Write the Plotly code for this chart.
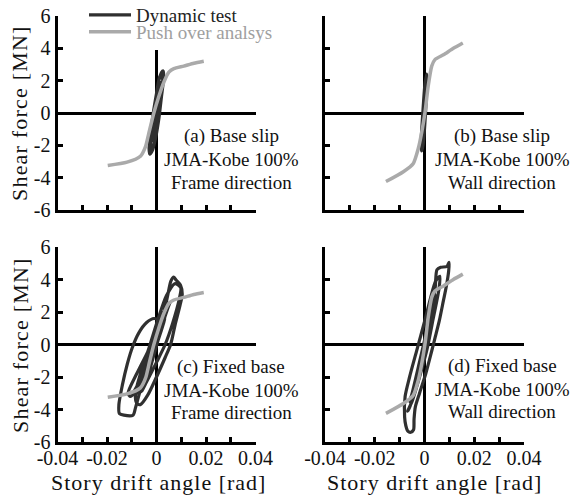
import plotly.graph_objects as go

W, H = 574, 498
FONT = "Liberation Serif"

# Push-over analysis curves (story drift angle [rad], shear force [MN])
po_frame_drift = [-0.0197, -0.0119, -0.0065, -0.0044, -0.0031, -0.0011, 0.0009,
                  0.0030, 0.0050, 0.0070, 0.0110, 0.0151, 0.0191]
po_frame_shear = [-3.25, -3.04, -2.67, -2.06, -1.25, -0.02, 1.00,
                  1.92, 2.53, 2.74, 2.90, 3.08, 3.20]
po_wall_drift = [-0.0155, -0.0085, -0.0045, -0.0025, -0.0011, 0.0002, 0.0015,
                 0.0029, 0.0042, 0.0076, 0.0116, 0.0154]
po_wall_shear = [-4.24, -3.63, -3.12, -2.20, -1.18, 0.04, 1.67,
                 2.90, 3.30, 3.60, 4.00, 4.33]

# Dynamic test, base slip, frame direction
dyn_a_drift = [0.0, -0.0002, 0.0008, 0.0020, 0.0027, 0.0029, 0.0020, 0.0010, -0.0003,
               -0.0016, -0.0027, -0.0030, -0.0023, -0.0013, 0.0, 0.0012, 0.0022,
               0.0025, 0.0014, 0.0001, -0.0012, -0.0022, -0.0024, -0.0014, -0.0002,
               0.0010, 0.0018, 0.0016, 0.0004, -0.0010, -0.0018, -0.0010, 0.0]
dyn_a_shear = [0.0, 0.9, 1.9, 2.5, 2.6, 2.2, 1.0, -0.3, -1.5,
               -2.3, -2.55, -2.2, -1.2, 0.0, 1.2, 2.2, 2.45,
               1.9, 0.6, -0.9, -2.0, -2.4, -1.9, -0.8, 0.5,
               1.5, 1.9, 1.2, -0.1, -1.4, -1.7, -0.8, 0.0]

# Dynamic test, base slip, wall direction
dyn_b_drift = [0.0, -0.0002, 0.0003, 0.0008, 0.0010, 0.0008, 0.0004, -0.0001, -0.0006,
               -0.0011, -0.0014, -0.0011, -0.0006, -0.0001, 0.0004, 0.0007, 0.0004,
               -0.0001, -0.0006, -0.0011, -0.0010, -0.0004, 0.0]
dyn_b_shear = [0.0, 0.8, 1.8, 2.4, 2.2, 1.2, 0.0, -1.2, -2.0,
               -2.35, -2.0, -1.0, 0.2, 1.3, 2.1, 1.8, 0.6,
               -0.7, -1.7, -2.1, -1.5, -0.4, 0.0]

# Dynamic test, fixed base, frame direction
dyn_c_drift = [0.0, 0.0020, 0.0035, 0.0025, -0.0010, -0.0040, -0.0055, -0.0045, -0.0015,
               0.0015, 0.0040, 0.0055, 0.0045, 0.0010, -0.0030, -0.0070, -0.0090, -0.0075,
               -0.0040, 0.0, 0.0025, 0.0045, 0.0058, 0.0070, 0.0080, 0.0097, 0.0104,
               0.0095, 0.0075, 0.0057, 0.0035, 0.0, -0.0035, -0.0065, -0.0080, -0.0085,
               -0.0065, -0.0030, 0.0005, 0.0040, 0.0075, 0.0098, 0.0092, 0.0065, 0.0035,
               0.0, -0.0040, -0.0060, -0.0040, -0.0010, 0.0010, 0.0005, -0.0010, -0.0040,
               -0.0072, -0.0098, -0.0118, -0.0138, -0.0152, -0.0150, -0.0132, -0.0095,
               -0.0085, -0.0065, -0.0030, -0.0005, -0.0040, -0.0105, -0.0115, -0.0080,
               -0.0040, -0.0010, 0.0015, 0.0030, 0.0020, -0.0010, -0.0045, -0.0080,
               -0.0095, -0.0070, -0.0030, 0.0]
dyn_c_shear = [0.0, 0.9, 1.6, 1.3, -0.4, -1.6, -2.3, -2.1, -0.8,
               0.7, 2.0, 2.6, 2.2, 0.6, -1.2, -2.6, -3.1, -2.9,
               -1.6, 0.3, 1.6, 3.0, 3.9, 4.15, 3.95, 3.65, 3.1,
               2.4, 1.2, 0.0, -0.8, -2.0, -3.1, -3.7, -3.6, -3.0,
               -1.8, -0.2, 1.5, 3.0, 3.75, 3.5, 2.8, 1.3, 0.0,
               -1.1, -2.3, -2.9, -2.2, -0.6, 0.6, 1.5, 1.6, 1.35,
               0.7, -0.2, -1.2, -2.5, -3.7, -4.25, -4.35, -4.35,
               -3.9, -2.8, -1.3, -0.2, -1.9, -3.2, -3.0, -1.8,
               -0.6, 0.3, 1.2, 2.0, 1.8, 0.3, -1.4, -2.6,
               -3.0, -2.3, -0.9, 0.0]

# Dynamic test, fixed base, wall direction
dyn_d_drift = [0.0, 0.0015, 0.0030, 0.0020, -0.0010, -0.0030, -0.0040, -0.0030, 0.0,
               0.0020, 0.0035, 0.0045, 0.0035, 0.0010, -0.0020, -0.0045, -0.0060, -0.0050,
               -0.0020, 0.0010, 0.0030, 0.0043, 0.0050, 0.0065, 0.0090, 0.0099, 0.0097,
               0.0088, 0.0076, 0.0060, 0.0043, 0.0029, 0.0005, -0.0020, -0.0037, -0.0042,
               -0.0044, -0.0055, -0.0066, -0.0075, -0.0080, -0.0078, -0.0060, -0.0030,
               0.0, 0.0025, 0.0045, 0.0062, 0.0058, 0.0035, 0.0010, -0.0020, -0.0050,
               -0.0068, -0.0058, -0.0030, -0.0005, 0.0015, 0.0030, 0.0038, 0.0028,
               0.0005, -0.0025, -0.0048, -0.0055, -0.0040, -0.0015, 0.0]
dyn_d_shear = [0.0, 0.9, 1.8, 1.4, -0.5, -1.8, -2.4, -2.0, -0.2,
               1.1, 2.3, 3.0, 2.5, 0.6, -1.3, -2.8, -3.5, -3.2,
               -1.4, 0.6, 2.3, 3.5, 4.6, 4.75, 4.8, 5.05, 4.5,
               3.6, 2.7, 1.5, 0.45, -0.4, -1.8, -3.0, -3.85, -4.6,
               -5.25, -5.4, -5.35, -5.0, -4.45, -3.2, -2.0, -0.3,
               1.4, 2.9, 3.9, 4.2, 3.4, 1.6, -0.3, -2.0, -3.5,
               -4.1, -3.8, -2.0, -0.4, 1.0, 2.2, 2.9, 2.4,
               0.6, -1.4, -2.9, -3.3, -2.6, -0.9, 0.0]

# Axis ticks
drift_ticks = [-0.04, -0.03, -0.02, -0.01, 0.0, 0.01, 0.02, 0.03, 0.04]
drift_labels = ["-0.04", "", "-0.02", "", "0", "", "0.02", "", "0.04"]
shear_ticks = [-6, -4, -2, 0, 2, 4, 6]
shear_labels = ["-6", "-4", "-2", "0", "2", "4", "6"]

series_names = ["Dynamic test", "Push over analsys"]
panel_captions = [
    ["(a) Base slip", "JMA-Kobe 100%", "Frame direction"],
    ["(b) Base slip", "JMA-Kobe 100%", "Wall direction"],
    ["(c) Fixed base", "JMA-Kobe 100%", "Frame direction"],
    ["(d) Fixed base", "JMA-Kobe 100%", "Wall direction"],
]
x_title = "Story drift angle [rad]"
y_title = "Shear force [MN]"

DYN_COLOR = "#303030"
PO_COLOR = "#aaaaaa"


def hx(p):
    return p / W


def hy(p):
    return 1 - p / H


def spaced(text, px):
    return '<span style="letter-spacing:%.1fpx">%s</span>' % (px, text)


col_dom = [[hx(57.5), hx(255.5)], [hx(325), hx(524)]]
row_dom = [[hy(210), hy(16)], [hy(442), hy(247)]]

panels = [
    (dyn_a_drift, dyn_a_shear, po_frame_drift, po_frame_shear),
    (dyn_b_drift, dyn_b_shear, po_wall_drift, po_wall_shear),
    (dyn_c_drift, dyn_c_shear, po_frame_drift, po_frame_shear),
    (dyn_d_drift, dyn_d_shear, po_wall_drift, po_wall_shear),
]

fig = go.Figure()
for i, (dx, dy, px_, py_) in enumerate(panels):
    sfx = "" if i == 0 else str(i + 1)
    fig.add_trace(go.Scatter(
        x=dx, y=dy, mode="lines", name=series_names[0],
        line=dict(color=DYN_COLOR, width=3.2, shape="spline", smoothing=0.7),
        xaxis="x" + sfx, yaxis="y" + sfx,
        showlegend=(i == 0), legend="legend",
    ))
    fig.add_trace(go.Scatter(
        x=px_, y=py_, mode="lines", name=series_names[1],
        line=dict(color=PO_COLOR, width=3.5, shape="spline", smoothing=0.6),
        xaxis="x" + sfx, yaxis="y" + sfx,
        showlegend=(i == 0), legend="legend2",
    ))

axis_common = dict(
    showline=True, linewidth=3, linecolor="black", mirror=False,
    ticks="inside", ticklen=5, tickwidth=2.5, tickcolor="black",
    showgrid=False, zeroline=True, zerolinewidth=3, zerolinecolor="black",
    tickfont=dict(family=FONT, size=20, color="#111111"),
    automargin=False,
)

layout = dict(
    width=W, height=H,
    margin=dict(l=0, r=0, t=0, b=0, autoexpand=False),
    paper_bgcolor="white", plot_bgcolor="white",
    font=dict(family=FONT, color="#111111"),
)
for i in range(4):
    sfx = "" if i == 0 else str(i + 1)
    r, c = divmod(i, 2)
    layout["xaxis" + sfx] = dict(
        axis_common, domain=col_dom[c], range=[-0.04, 0.04],
        anchor="y" + sfx, tickmode="array", tickvals=drift_ticks,
        ticktext=drift_labels if r == 1 else [""] * len(drift_ticks),
        ticklabelstandoff=-4,
    )
    layout["yaxis" + sfx] = dict(
        axis_common, domain=row_dom[r], range=[-6, 6],
        anchor="x" + sfx, tickmode="array", tickvals=shear_ticks,
        ticktext=shear_labels if c == 0 else [""] * len(shear_ticks),
    )

layout["legend"] = dict(
    x=hx(84), y=hy(-4), xanchor="left", yanchor="top",
    xref="paper", yref="paper",
    bgcolor="rgba(0,0,0,0)", borderwidth=0, itemwidth=42,
    font=dict(family=FONT, size=19, color="#222222"),
)
layout["legend2"] = dict(
    x=hx(84), y=hy(13), xanchor="left", yanchor="top",
    xref="paper", yref="paper",
    bgcolor="rgba(0,0,0,0)", borderwidth=0, itemwidth=42,
    font=dict(family=FONT, size=19, color="#a0a0a0"),
)

fig.update_layout(**layout)

# white backing behind the legend
fig.add_shape(type="rect", xref="paper", yref="paper",
              x0=hx(88), x1=hx(290), y0=hy(50), y1=hy(0),
              fillcolor="white", line=dict(width=0), layer="above")

annotations = []
# axis titles
for yc in (113, 345):
    annotations.append(dict(
        text=spaced(y_title, 1.2), xref="paper", yref="paper", x=hx(20), y=hy(yc),
        textangle=-90, showarrow=False, xanchor="center", yanchor="middle",
        font=dict(family=FONT, size=22, color="#111111")))
for xc in (158, 434):
    annotations.append(dict(
        text=spaced(x_title, 1.0), xref="paper", yref="paper", x=hx(xc), y=hy(482),
        showarrow=False, xanchor="center", yanchor="middle",
        font=dict(family=FONT, size=22, color="#111111")))

# panel captions
cap_x = [231, 502, 231, 502]
cap_y = [[136, 159, 182], [136, 159, 182], [367, 390, 412], [366, 389, 411]]
for i, lines in enumerate(panel_captions):
    for line, yy in zip(lines, cap_y[i]):
        annotations.append(dict(
            text=line, xref="paper", yref="paper", x=hx(cap_x[i]), y=hy(yy),
            showarrow=False, xanchor="center", yanchor="middle",
            font=dict(family=FONT, size=19, color="#111111")))

fig.update_layout(annotations=annotations)
fig.write_html("out.html")
